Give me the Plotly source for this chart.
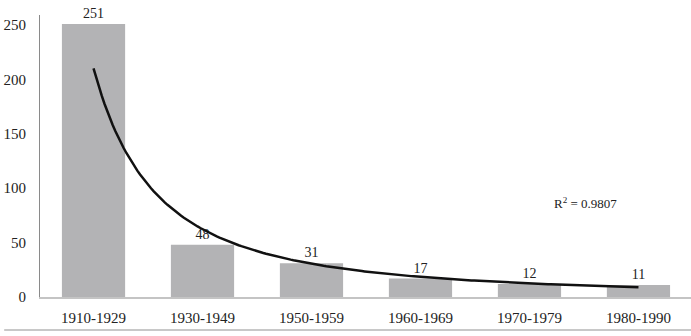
import numpy as np
import plotly.graph_objects as go

categories = ["1910-1929", "1930-1949", "1950-1959", "1960-1969", "1970-1979", "1980-1990"]
counts = [251, 48, 31, 17, 12, 11]
y_ticks = [0, 50, 100, 150, 200, 250]
r2_label = "R<sup>2</sup> = 0.9807"

xpos = np.arange(len(categories))
# Power trendline (as Excel): y = a * n^b with n = 1..N
n = xpos + 1
b, lna = np.polyfit(np.log(n), np.log(counts), 1)
a = np.exp(lna)
xs = np.linspace(0, len(categories) - 1, 200)
ys = a * (xs + 1) ** b

font = "Liberation Serif, DejaVu Serif, serif"
fig = go.Figure()
fig.add_trace(go.Bar(x=xpos, y=counts, width=0.58, marker=dict(color="#b3b3b5", line=dict(width=0)),
                     text=[str(v) for v in counts], textposition="outside", cliponaxis=False,
                     textfont=dict(family=font, size=14, color="#222")))
fig.add_trace(go.Scatter(x=xs, y=ys, mode="lines", line=dict(color="#111", width=2.5), hoverinfo="skip"))
fig.add_annotation(x=4.51, y=86, text=r2_label, showarrow=False,
                   font=dict(family=font, size=13, color="#222"))
fig.add_shape(type="line", xref="paper", yref="paper", x0=-0.055, x1=1.0, y0=-0.117, y1=-0.117,
              line=dict(color="#c8c8c8", width=2))
fig.update_layout(
    width=691, height=336, margin=dict(l=40, r=0, t=15, b=39, autoexpand=False),
    plot_bgcolor="white", paper_bgcolor="white", showlegend=False, bargap=0.42,
    font=dict(family=font, color="#222"),
    xaxis=dict(range=[-0.491, 5.482], tickvals=list(xpos), ticktext=categories, showgrid=False,
               showline=True, linecolor="#c4c4c4", linewidth=2, ticks="", zeroline=False,
               automargin=False,
               tickfont=dict(family=font, size=15, color="#222"), ticklabelstandoff=6),
    yaxis=dict(range=[0, 259.2], tickvals=y_ticks, showgrid=False, showline=True, linecolor="#8a8a8a",
               linewidth=1, ticks="", zeroline=False, automargin=False,
               tickfont=dict(family=font, size=15, color="#222"),
               ticklabelstandoff=10),
)
fig.write_html("out.html", config={"displayModeBar": False},
               post_script="document.body.style.margin='0';")
